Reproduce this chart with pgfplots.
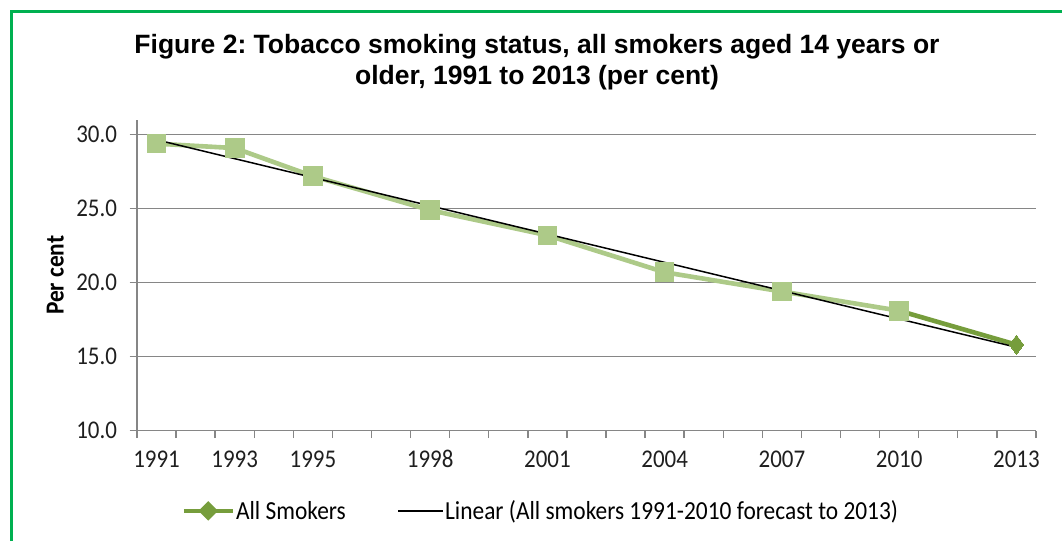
\documentclass[border=0pt]{standalone}
\usepackage{pgfplots}
\pgfplotsset{compat=1.18}
\usepackage{fontspec}
\setmainfont{Carlito}[FakeStretch=0.9]
\newfontfamily\titlefont{Liberation Sans}

\definecolor{lightgreen}{RGB}{173,202,136}
\definecolor{darkgreen}{RGB}{118,157,60}
\definecolor{gridgray}{RGB}{134,134,134}
\definecolor{framegreen}{RGB}{0,176,80}

% Legend images: long line with a diamond, and a plain line
\pgfplotsset{
  diamondline legend/.style={legend image code/.code={
      \draw[##1] (0pt,0pt) -- (49pt,0pt);
      \fill[darkgreen] (24.5pt,-6.5pt) -- (31pt,0pt) -- (24.5pt,6.5pt) -- (18pt,0pt) -- cycle;}},
  plainline legend/.style={legend image code/.code={
      \draw[##1] (0pt,0pt) -- (45pt,0pt);}},
}

% Per cent of persons aged 14+ who smoke (daily, weekly or less often)
\pgfplotstableread{
year value
1991 29.4
1993 29.1
1995 27.2
1998 24.9
2001 23.2
2004 20.7
2007 19.4
2010 18.1
}\smokersobs
\pgfplotstableread{
year value
2010 18.1
2013 15.8
}\smokerslatest
% Least-squares line fitted to 1991--2010, extended to 2013
\pgfplotstableread{
year value
1991 29.66
2013 15.63
}\smokerstrend

\begin{document}
\begin{tikzpicture}[x=1pt,y=1pt]
\useasboundingbox (0,0) rectangle (1062,541);
\fill[white] (0,0) rectangle (1062,541);
\draw[framegreen, line width=3pt] (11.3,0) -- (11.3,529.7) -- (1062,529.7);

\node[align=center, font=\titlefont\bfseries\fontsize{26.5}{31}\selectfont]
  at (537,478.5) {Figure 2:\ Tobacco smoking status, all smokers aged 14 years or\\
  older, 1991 to 2013 (per cent)};

\begin{axis}[
  at={(137pt,110.5pt)}, anchor=south west,
  scale only axis, width=899pt, height=310.5pt,
  xmin=1990.5, xmax=2013.5, ymin=10, ymax=31,
  axis x line=bottom, axis y line=left,
  axis line style={gridgray, line width=1.4pt, -},
  tick align=outside,
  major tick length=7.5pt, minor tick length=7.5pt,
  xtick={1991,1993,1995,1998,2001,2004,2007,2010,2013},
  xticklabels={1991,1993,1995,1998,2001,2004,2007,2010,2013},
  minor xtick={1990.5,1991.5,...,2013.5},
  major x tick style={draw=none},
  minor x tick style={gridgray, line width=1.4pt},
  ytick={10,15,20,25,30},
  yticklabels={10.0,15.0,20.0,25.0,30.0},
  y tick style={gridgray, line width=1.4pt},
  ymajorgrids,
  major grid style={gridgray, line width=1.4pt},
  ticklabel style={font=\fontsize{25.5}{28}\selectfont, text=black!88},
  xticklabel style={anchor=north, yshift=-13pt, text height=16pt, text depth=0pt, inner sep=0pt},
  yticklabel style={xshift=-9pt},
  ylabel={Per cent},
  ylabel style={font=\bfseries\fontsize{26}{28}\selectfont, at={(axis description cs:-0.0775,0.5)}, anchor=south},
  legend style={draw=none, fill=none, at={(axis description cs:0.4480,-0.259)}, anchor=center,
    font=\fontsize{26}{28}\selectfont, legend columns=2,
    nodes={inner sep=0pt},
    /tikz/every odd column/.append style={column sep=1pt},
    /tikz/every even column/.append style={column sep=52pt},
    inner sep=0pt, row sep=0pt},
  legend cell align=left,
  clip=false,
]
  % observed series, 1991--2010
  \addplot[lightgreen, line width=4.6pt, line join=round, forget plot] table[x=year,y=value] {\smokersobs};
  % latest survey segment, 2010--2013
  \addplot[darkgreen, line width=4.6pt, forget plot] table[x=year,y=value] {\smokerslatest};
  \addplot[only marks, mark=square*, mark size=9.3pt, mark options={fill=lightgreen, draw=lightgreen, line width=0pt}, forget plot]
    table[x=year,y=value] {\smokersobs};
  \addplot[only marks, mark=diamond*, mark size=9.5pt, mark indices={2}, mark options={fill=darkgreen, draw=darkgreen, line width=0pt}, forget plot]
    table[x=year,y=value] {\smokerslatest};
  % linear trend
  \addplot[black, line width=1.5pt, forget plot] table[x=year,y=value] {\smokerstrend};

  \addlegendimage{diamondline legend, darkgreen, line width=4.6pt}
  \addlegendentry{All Smokers}
  \addlegendimage{plainline legend, black, line width=1.3pt}
  \addlegendentry{Linear (All smokers 1991-2010 forecast to 2013)}
\end{axis}
\end{tikzpicture}
\end{document}
